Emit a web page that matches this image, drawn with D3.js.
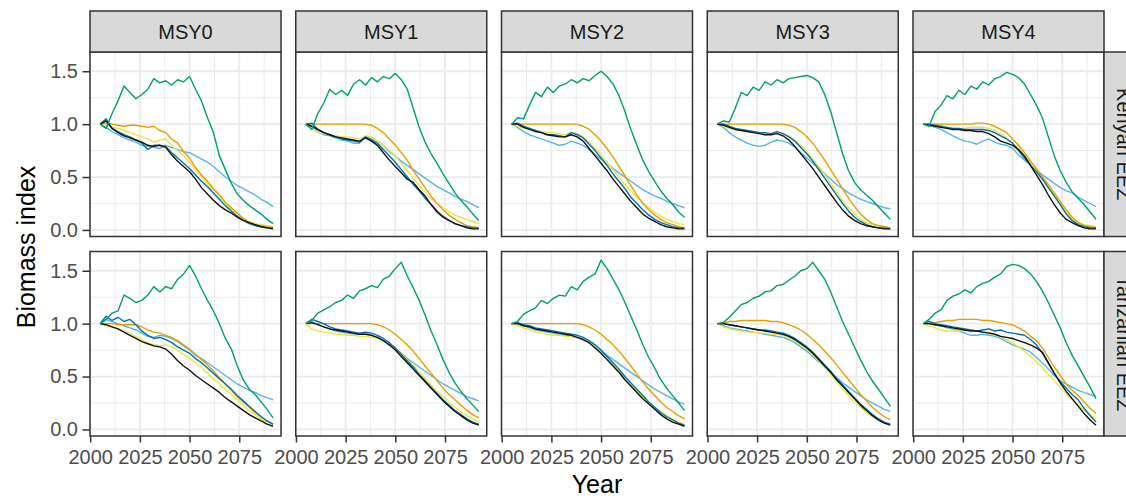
<!DOCTYPE html>
<html>
<head>
<meta charset="utf-8">
<script src="https://cdn.jsdelivr.net/npm/d3@7"></script>
<style>
  html, body { margin: 0; padding: 0; background: #fff; }
  svg { display: block; }
</style>
</head>
<body>
<svg id="chart" width="1126" height="496"></svg>
<script>
// Facet labels, series and axis ticks
const regions = ["Kenyan EEZ", "Tanzanian EEZ"];
const scenarios = ["MSY0", "MSY1", "MSY2", "MSY3", "MSY4"];
const seriesKeys = ["skyblue", "yellow", "orange", "blue", "black", "green"];
const seriesColours = ["#56B4E9", "#F0E442", "#E69F00", "#0072B2", "#111111", "#009E73"];
const xTicks = [2000, 2025, 2050, 2075];
const yTicks = [0, 0.5, 1, 1.5];

// Simulation years (every third year)
const years = [2005, 2008, 2011, 2014, 2017, 2020, 2023, 2026, 2029, 2032, 2035, 2038, 2041, 2044, 2047,
               2050, 2053, 2056, 2059, 2062, 2065, 2068, 2071, 2074, 2077, 2080, 2083, 2086, 2089, 2092];

// ---- Kenyan EEZ ----
const kenMSY0_green   = [1.00,0.96,1.10,1.22,1.36,1.30,1.24,1.28,1.33,1.43,1.39,1.41,1.37,1.42,1.40,1.45,1.33,1.22,1.06,0.92,0.70,0.57,0.44,0.34,0.28,0.23,0.19,0.15,0.10,0.06];
const kenMSY0_orange  = [1.00,1.01,1.00,0.99,0.98,0.99,0.99,0.98,0.97,0.98,0.94,0.92,0.86,0.82,0.74,0.68,0.59,0.52,0.46,0.39,0.33,0.26,0.21,0.16,0.11,0.07,0.05,0.04,0.03,0.02];
const kenMSY0_yellow  = [1.00,0.99,0.97,0.96,0.94,0.92,0.90,0.88,0.86,0.83,0.85,0.86,0.80,0.75,0.70,0.64,0.57,0.50,0.44,0.38,0.32,0.26,0.20,0.15,0.11,0.08,0.06,0.05,0.04,0.03];
const kenMSY0_skyblue = [1.00,0.97,0.93,0.90,0.87,0.85,0.83,0.80,0.79,0.78,0.77,0.80,0.78,0.76,0.74,0.73,0.70,0.67,0.64,0.60,0.55,0.50,0.46,0.42,0.39,0.36,0.33,0.29,0.26,0.22];
const kenMSY0_blue    = [1.00,1.05,0.96,0.93,0.90,0.88,0.85,0.82,0.76,0.80,0.80,0.79,0.73,0.68,0.63,0.58,0.52,0.46,0.41,0.35,0.29,0.23,0.18,0.13,0.09,0.06,0.04,0.03,0.02,0.02];
const kenMSY0_black   = [1.00,1.03,0.96,0.92,0.89,0.87,0.85,0.83,0.80,0.79,0.80,0.78,0.71,0.65,0.60,0.55,0.48,0.40,0.34,0.28,0.23,0.19,0.16,0.12,0.09,0.07,0.05,0.03,0.02,0.01];

const kenMSY1_green   = [1.00,0.95,1.10,1.20,1.33,1.28,1.32,1.27,1.38,1.42,1.37,1.44,1.40,1.45,1.43,1.48,1.42,1.33,1.15,0.97,0.83,0.72,0.63,0.53,0.44,0.35,0.28,0.22,0.15,0.09];
const kenMSY1_orange  = [1.00,1.00,1.00,1.00,1.00,1.00,1.00,1.00,1.00,1.00,1.00,0.99,0.96,0.92,0.86,0.80,0.73,0.66,0.56,0.48,0.40,0.32,0.25,0.19,0.14,0.10,0.07,0.04,0.03,0.02];
const kenMSY1_yellow  = [1.00,0.96,0.92,0.91,0.90,0.89,0.88,0.88,0.87,0.86,0.89,0.88,0.84,0.80,0.75,0.70,0.63,0.56,0.49,0.42,0.36,0.30,0.25,0.21,0.17,0.14,0.12,0.10,0.08,0.06];
const kenMSY1_skyblue = [1.00,0.97,0.93,0.90,0.89,0.87,0.85,0.84,0.82,0.82,0.88,0.86,0.84,0.80,0.74,0.70,0.65,0.61,0.57,0.53,0.49,0.45,0.41,0.38,0.35,0.32,0.29,0.27,0.24,0.21];
const kenMSY1_blue    = [1.00,1.01,0.95,0.92,0.90,0.88,0.86,0.85,0.84,0.83,0.88,0.85,0.82,0.76,0.70,0.64,0.57,0.50,0.43,0.37,0.30,0.24,0.18,0.13,0.09,0.06,0.04,0.03,0.02,0.02];
const kenMSY1_black   = [1.00,0.98,0.95,0.92,0.90,0.88,0.87,0.86,0.85,0.84,0.87,0.84,0.80,0.73,0.66,0.60,0.54,0.48,0.45,0.38,0.32,0.24,0.17,0.12,0.09,0.06,0.04,0.02,0.01,0.01];

const kenMSY2_green   = [1.00,1.06,1.05,1.18,1.30,1.26,1.35,1.30,1.36,1.38,1.42,1.39,1.43,1.41,1.46,1.50,1.45,1.38,1.27,1.12,0.95,0.80,0.66,0.55,0.46,0.37,0.30,0.24,0.17,0.12];
const kenMSY2_orange  = [1.00,1.00,1.00,1.00,1.00,1.00,1.00,1.00,1.00,1.00,1.00,1.00,0.98,0.95,0.90,0.84,0.77,0.69,0.60,0.51,0.42,0.33,0.25,0.19,0.14,0.10,0.07,0.05,0.03,0.02];
const kenMSY2_yellow  = [1.00,0.98,0.96,0.95,0.94,0.93,0.92,0.92,0.91,0.90,0.92,0.91,0.88,0.83,0.77,0.71,0.64,0.57,0.50,0.43,0.37,0.31,0.26,0.21,0.17,0.13,0.10,0.08,0.06,0.05];
const kenMSY2_skyblue = [1.00,0.97,0.93,0.90,0.88,0.86,0.84,0.82,0.80,0.81,0.84,0.82,0.80,0.76,0.71,0.67,0.63,0.58,0.54,0.50,0.46,0.42,0.38,0.35,0.32,0.30,0.27,0.25,0.23,0.21];
const kenMSY2_blue    = [1.00,1.01,0.98,0.96,0.94,0.92,0.90,0.90,0.89,0.88,0.92,0.90,0.87,0.81,0.75,0.68,0.61,0.53,0.46,0.39,0.31,0.25,0.19,0.14,0.10,0.07,0.05,0.03,0.02,0.02];
const kenMSY2_black   = [1.00,1.00,0.97,0.95,0.93,0.92,0.90,0.89,0.88,0.88,0.90,0.88,0.84,0.77,0.70,0.63,0.56,0.48,0.41,0.34,0.27,0.21,0.15,0.11,0.08,0.05,0.03,0.02,0.01,0.01];

const kenMSY3_green   = [1.00,1.03,1.02,1.15,1.30,1.27,1.35,1.32,1.40,1.37,1.42,1.39,1.43,1.44,1.45,1.46,1.44,1.40,1.28,1.12,0.92,0.72,0.56,0.45,0.38,0.33,0.28,0.22,0.16,0.10];
const kenMSY3_orange  = [1.00,1.00,1.00,1.00,1.00,1.00,1.00,1.00,1.00,1.00,1.00,1.00,0.99,0.97,0.93,0.88,0.82,0.74,0.66,0.57,0.48,0.39,0.30,0.22,0.15,0.10,0.06,0.04,0.03,0.02];
const kenMSY3_yellow  = [1.00,0.98,0.96,0.95,0.94,0.93,0.93,0.92,0.91,0.91,0.92,0.91,0.89,0.85,0.80,0.74,0.67,0.60,0.52,0.44,0.36,0.28,0.21,0.15,0.10,0.07,0.05,0.04,0.03,0.02];
const kenMSY3_skyblue = [1.00,0.97,0.92,0.88,0.85,0.82,0.80,0.79,0.80,0.83,0.85,0.84,0.82,0.78,0.73,0.68,0.63,0.58,0.53,0.48,0.43,0.39,0.35,0.32,0.29,0.27,0.25,0.23,0.21,0.20];
const kenMSY3_blue    = [1.00,1.00,0.98,0.96,0.95,0.94,0.93,0.92,0.92,0.91,0.93,0.91,0.88,0.84,0.78,0.72,0.65,0.57,0.49,0.41,0.33,0.25,0.18,0.12,0.08,0.05,0.03,0.02,0.02,0.01];
const kenMSY3_black   = [1.00,0.99,0.97,0.95,0.94,0.93,0.92,0.91,0.90,0.90,0.91,0.89,0.85,0.79,0.72,0.65,0.58,0.50,0.42,0.34,0.26,0.19,0.13,0.09,0.06,0.04,0.03,0.02,0.01,0.01];

const kenMSY4_green   = [1.00,0.98,1.12,1.18,1.27,1.24,1.32,1.28,1.36,1.33,1.40,1.37,1.43,1.45,1.49,1.47,1.44,1.38,1.28,1.18,1.06,0.88,0.70,0.56,0.45,0.36,0.30,0.24,0.17,0.10];
const kenMSY4_orange  = [1.00,1.00,1.00,1.00,1.00,1.00,1.00,1.00,1.00,1.01,1.01,1.00,0.98,0.95,0.92,0.86,0.80,0.73,0.65,0.58,0.50,0.43,0.35,0.27,0.19,0.12,0.07,0.04,0.03,0.02];
const kenMSY4_yellow  = [1.00,0.99,0.98,0.97,0.97,0.96,0.96,0.96,0.97,0.97,0.97,0.96,0.94,0.91,0.87,0.82,0.76,0.70,0.63,0.56,0.48,0.41,0.33,0.25,0.17,0.11,0.07,0.05,0.04,0.03];
const kenMSY4_skyblue = [1.00,0.99,0.97,0.95,0.92,0.89,0.86,0.84,0.83,0.81,0.84,0.86,0.83,0.81,0.80,0.77,0.71,0.66,0.62,0.57,0.52,0.48,0.44,0.40,0.37,0.35,0.31,0.28,0.25,0.22];
const kenMSY4_blue    = [1.00,1.00,0.99,0.98,0.97,0.96,0.96,0.95,0.95,0.95,0.95,0.94,0.92,0.89,0.86,0.82,0.75,0.68,0.61,0.55,0.48,0.40,0.32,0.24,0.15,0.09,0.05,0.03,0.02,0.02];
const kenMSY4_black   = [1.00,0.99,0.98,0.97,0.96,0.95,0.95,0.94,0.94,0.93,0.93,0.91,0.88,0.84,0.82,0.80,0.76,0.70,0.61,0.52,0.43,0.33,0.24,0.16,0.10,0.07,0.04,0.02,0.01,0.01];

// ---- Tanzanian EEZ ----
const tanMSY0_green   = [1.00,1.04,1.10,1.12,1.27,1.24,1.20,1.22,1.27,1.35,1.30,1.35,1.33,1.42,1.47,1.55,1.45,1.33,1.22,1.12,1.00,0.86,0.76,0.60,0.47,0.38,0.33,0.26,0.19,0.11];
const tanMSY0_orange  = [1.00,1.00,1.00,0.99,0.99,0.99,0.99,0.97,0.94,0.92,0.91,0.89,0.87,0.84,0.80,0.76,0.71,0.66,0.61,0.55,0.49,0.43,0.37,0.31,0.26,0.21,0.16,0.12,0.08,0.05];
const tanMSY0_yellow  = [1.00,0.98,0.97,0.95,0.93,0.91,0.88,0.85,0.82,0.80,0.79,0.80,0.78,0.75,0.71,0.67,0.63,0.58,0.53,0.48,0.43,0.38,0.33,0.28,0.23,0.18,0.14,0.10,0.07,0.05];
const tanMSY0_skyblue = [1.00,1.04,1.02,1.00,0.98,0.96,0.94,0.91,0.88,0.87,0.89,0.88,0.86,0.83,0.79,0.75,0.70,0.67,0.63,0.59,0.55,0.51,0.47,0.43,0.40,0.37,0.35,0.32,0.30,0.28];
const tanMSY0_blue    = [1.00,1.07,1.03,1.06,1.02,1.04,0.99,0.93,0.89,0.86,0.87,0.85,0.82,0.78,0.75,0.72,0.67,0.63,0.58,0.53,0.48,0.43,0.38,0.32,0.27,0.22,0.17,0.12,0.08,0.05];
const tanMSY0_black   = [1.00,0.99,0.97,0.95,0.92,0.89,0.86,0.83,0.81,0.79,0.78,0.76,0.71,0.65,0.60,0.56,0.51,0.47,0.43,0.39,0.35,0.30,0.26,0.22,0.18,0.14,0.11,0.08,0.05,0.03];

const tanMSY1_green   = [1.00,1.03,1.10,1.13,1.16,1.20,1.22,1.27,1.24,1.31,1.33,1.36,1.34,1.42,1.45,1.52,1.58,1.45,1.34,1.22,1.08,0.93,0.80,0.66,0.54,0.44,0.36,0.29,0.23,0.17];
const tanMSY1_orange  = [1.00,1.00,1.00,1.00,1.00,1.00,1.00,1.00,1.00,1.00,1.00,1.00,0.99,0.97,0.94,0.90,0.85,0.80,0.74,0.67,0.60,0.53,0.46,0.39,0.33,0.28,0.23,0.18,0.14,0.11];
const tanMSY1_yellow  = [1.00,0.95,0.93,0.92,0.91,0.90,0.90,0.89,0.89,0.88,0.88,0.87,0.86,0.84,0.81,0.77,0.72,0.66,0.60,0.54,0.48,0.42,0.36,0.31,0.26,0.21,0.17,0.13,0.10,0.07];
const tanMSY1_skyblue = [1.00,1.02,0.99,0.97,0.95,0.93,0.92,0.91,0.90,0.90,0.91,0.89,0.87,0.84,0.80,0.76,0.72,0.67,0.63,0.59,0.55,0.51,0.47,0.43,0.40,0.37,0.34,0.31,0.29,0.27];
const tanMSY1_blue    = [1.00,1.04,1.02,1.00,0.97,0.95,0.94,0.93,0.92,0.91,0.92,0.91,0.89,0.86,0.82,0.77,0.71,0.65,0.59,0.52,0.46,0.40,0.34,0.28,0.23,0.18,0.14,0.10,0.07,0.05];
const tanMSY1_black   = [1.00,1.01,0.99,0.97,0.95,0.94,0.93,0.92,0.91,0.90,0.90,0.89,0.87,0.84,0.80,0.75,0.69,0.63,0.57,0.51,0.45,0.39,0.33,0.27,0.22,0.17,0.13,0.09,0.06,0.04];

const tanMSY2_green   = [1.00,1.02,1.09,1.12,1.15,1.22,1.19,1.24,1.27,1.26,1.35,1.32,1.40,1.44,1.47,1.60,1.52,1.42,1.32,1.20,1.07,0.94,0.80,0.68,0.58,0.47,0.39,0.32,0.25,0.18];
const tanMSY2_orange  = [1.00,1.00,1.00,1.00,1.00,1.00,1.00,1.00,1.00,1.00,1.00,1.00,0.99,0.97,0.94,0.90,0.85,0.80,0.74,0.67,0.60,0.52,0.45,0.38,0.32,0.26,0.21,0.17,0.13,0.10];
const tanMSY2_yellow  = [1.00,0.98,0.96,0.94,0.92,0.91,0.90,0.89,0.89,0.88,0.88,0.87,0.85,0.82,0.78,0.73,0.67,0.61,0.55,0.49,0.43,0.37,0.31,0.26,0.21,0.17,0.13,0.10,0.07,0.05];
const tanMSY2_skyblue = [1.00,1.00,0.98,0.96,0.94,0.93,0.92,0.91,0.90,0.89,0.88,0.87,0.85,0.82,0.78,0.74,0.70,0.66,0.62,0.58,0.54,0.50,0.46,0.42,0.38,0.35,0.32,0.29,0.26,0.24];
const tanMSY2_blue    = [1.00,1.01,0.99,0.98,0.96,0.95,0.94,0.93,0.92,0.91,0.90,0.89,0.87,0.84,0.80,0.75,0.69,0.63,0.57,0.50,0.44,0.38,0.32,0.26,0.21,0.16,0.12,0.09,0.06,0.04];
const tanMSY2_black   = [1.00,1.00,0.98,0.97,0.95,0.94,0.93,0.92,0.91,0.90,0.89,0.87,0.85,0.82,0.77,0.72,0.66,0.60,0.54,0.47,0.41,0.35,0.29,0.24,0.19,0.14,0.10,0.07,0.05,0.03];

const tanMSY3_green   = [1.00,1.01,1.06,1.12,1.18,1.20,1.24,1.26,1.30,1.31,1.36,1.37,1.41,1.45,1.50,1.52,1.58,1.50,1.42,1.30,1.16,1.02,0.90,0.78,0.66,0.55,0.46,0.38,0.30,0.22];
const tanMSY3_orange  = [1.00,1.01,1.02,1.02,1.03,1.03,1.03,1.03,1.03,1.02,1.02,1.01,0.99,0.97,0.94,0.90,0.85,0.80,0.74,0.68,0.61,0.54,0.47,0.40,0.33,0.27,0.21,0.16,0.12,0.09];
const tanMSY3_yellow  = [1.00,0.97,0.95,0.94,0.93,0.92,0.92,0.91,0.91,0.90,0.90,0.89,0.87,0.84,0.80,0.76,0.71,0.65,0.59,0.52,0.45,0.38,0.32,0.26,0.21,0.16,0.12,0.09,0.06,0.05];
const tanMSY3_skyblue = [1.00,0.98,0.96,0.95,0.94,0.93,0.92,0.91,0.90,0.89,0.88,0.87,0.85,0.82,0.78,0.74,0.69,0.64,0.59,0.54,0.49,0.44,0.40,0.36,0.32,0.28,0.25,0.22,0.19,0.17];
const tanMSY3_blue    = [1.00,1.00,0.99,0.98,0.97,0.96,0.95,0.94,0.94,0.93,0.92,0.91,0.89,0.86,0.82,0.78,0.73,0.67,0.61,0.55,0.48,0.42,0.36,0.30,0.24,0.19,0.14,0.10,0.07,0.05];
const tanMSY3_black   = [1.00,1.00,0.99,0.98,0.97,0.96,0.95,0.94,0.93,0.92,0.91,0.90,0.88,0.85,0.81,0.77,0.72,0.66,0.60,0.54,0.47,0.41,0.35,0.29,0.23,0.18,0.13,0.09,0.06,0.04];

const tanMSY4_green   = [1.00,1.04,1.10,1.13,1.22,1.26,1.28,1.32,1.29,1.35,1.38,1.40,1.44,1.47,1.54,1.56,1.55,1.52,1.47,1.40,1.31,1.20,1.08,0.96,0.82,0.70,0.60,0.50,0.40,0.29];
const tanMSY4_orange  = [1.00,1.00,1.01,1.02,1.03,1.03,1.04,1.04,1.04,1.04,1.03,1.03,1.02,1.01,1.00,0.99,0.96,0.93,0.88,0.84,0.77,0.68,0.59,0.51,0.43,0.37,0.32,0.26,0.20,0.15];
const tanMSY4_yellow  = [1.00,0.98,0.96,0.94,0.93,0.93,0.93,0.94,0.94,0.93,0.92,0.92,0.90,0.88,0.85,0.82,0.78,0.74,0.69,0.64,0.58,0.52,0.46,0.40,0.34,0.28,0.23,0.18,0.14,0.10];
const tanMSY4_skyblue = [1.00,1.00,0.99,0.98,0.96,0.95,0.93,0.91,0.89,0.89,0.90,0.89,0.88,0.86,0.83,0.80,0.78,0.76,0.73,0.68,0.63,0.57,0.51,0.46,0.43,0.40,0.37,0.35,0.33,0.31];
const tanMSY4_blue    = [1.00,1.02,1.00,0.99,0.98,0.97,0.96,0.95,0.94,0.93,0.94,0.95,0.93,0.94,0.92,0.91,0.90,0.89,0.85,0.80,0.72,0.63,0.53,0.45,0.39,0.33,0.28,0.20,0.13,0.07];
const tanMSY4_black   = [1.00,1.00,0.99,0.98,0.97,0.96,0.95,0.94,0.93,0.93,0.92,0.91,0.90,0.88,0.87,0.86,0.84,0.82,0.80,0.77,0.73,0.63,0.53,0.44,0.36,0.29,0.22,0.15,0.09,0.04];

// Panel table: region -> scenario -> series values
const panelData = {
  "Kenyan EEZ": [
    {skyblue: kenMSY0_skyblue, yellow: kenMSY0_yellow, orange: kenMSY0_orange, blue: kenMSY0_blue, black: kenMSY0_black, green: kenMSY0_green},
    {skyblue: kenMSY1_skyblue, yellow: kenMSY1_yellow, orange: kenMSY1_orange, blue: kenMSY1_blue, black: kenMSY1_black, green: kenMSY1_green},
    {skyblue: kenMSY2_skyblue, yellow: kenMSY2_yellow, orange: kenMSY2_orange, blue: kenMSY2_blue, black: kenMSY2_black, green: kenMSY2_green},
    {skyblue: kenMSY3_skyblue, yellow: kenMSY3_yellow, orange: kenMSY3_orange, blue: kenMSY3_blue, black: kenMSY3_black, green: kenMSY3_green},
    {skyblue: kenMSY4_skyblue, yellow: kenMSY4_yellow, orange: kenMSY4_orange, blue: kenMSY4_blue, black: kenMSY4_black, green: kenMSY4_green}
  ],
  "Tanzanian EEZ": [
    {skyblue: tanMSY0_skyblue, yellow: tanMSY0_yellow, orange: tanMSY0_orange, blue: tanMSY0_blue, black: tanMSY0_black, green: tanMSY0_green},
    {skyblue: tanMSY1_skyblue, yellow: tanMSY1_yellow, orange: tanMSY1_orange, blue: tanMSY1_blue, black: tanMSY1_black, green: tanMSY1_green},
    {skyblue: tanMSY2_skyblue, yellow: tanMSY2_yellow, orange: tanMSY2_orange, blue: tanMSY2_blue, black: tanMSY2_black, green: tanMSY2_green},
    {skyblue: tanMSY3_skyblue, yellow: tanMSY3_yellow, orange: tanMSY3_orange, blue: tanMSY3_blue, black: tanMSY3_black, green: tanMSY3_green},
    {skyblue: tanMSY4_skyblue, yellow: tanMSY4_yellow, orange: tanMSY4_orange, blue: tanMSY4_blue, black: tanMSY4_black, green: tanMSY4_green}
  ]
};

// ---- Layout ----
const FONT = "'Liberation Sans', Arial, Helvetica, sans-serif";
const gridLeft = 90, gridTop = 52;
const panelW = 191, panelH = 184.5;
const colGap = 14.75, rowGap = 15;
const stripH = 41;
const gridColour = "#EBEBEB", borderColour = "#333333";

const svg = d3.select("#chart");
svg.append("rect").attr("width", 1126).attr("height", 496).attr("fill", "#fff");

const x = d3.scaleLinear().domain([1999.9, 2096]).range([0, panelW]);
const y = d3.scaleLinear().domain([-0.062, 1.682]).range([panelH, 0]);
const xMinor = [2012.5, 2037.5, 2062.5, 2087.5];
const yMinor = [0.25, 0.75, 1.25];

const line = d3.line().x((d, i) => x(years[i])).y(d => y(d));

regions.forEach((region, r) => {
  const py = gridTop + r * (panelH + rowGap);
  scenarios.forEach((scen, c) => {
    const px = gridLeft + c * (panelW + colGap);
    const g = svg.append("g").attr("transform", `translate(${px},${py})`);
    g.append("rect").attr("width", panelW).attr("height", panelH).attr("fill", "#fff");

    // grid
    g.selectAll(".xmin").data(xMinor).join("line")
      .attr("x1", d => x(d)).attr("x2", d => x(d)).attr("y1", 0).attr("y2", panelH)
      .attr("stroke", gridColour).attr("stroke-width", 1);
    g.selectAll(".ymin").data(yMinor).join("line")
      .attr("x1", 0).attr("x2", panelW).attr("y1", d => y(d)).attr("y2", d => y(d))
      .attr("stroke", gridColour).attr("stroke-width", 1);
    g.selectAll(".xmaj").data(xTicks).join("line")
      .attr("x1", d => x(d)).attr("x2", d => x(d)).attr("y1", 0).attr("y2", panelH)
      .attr("stroke", gridColour).attr("stroke-width", 1.8);
    g.selectAll(".ymaj").data(yTicks).join("line")
      .attr("x1", 0).attr("x2", panelW).attr("y1", d => y(d)).attr("y2", d => y(d))
      .attr("stroke", gridColour).attr("stroke-width", 1.8);

    // series
    const pd = panelData[region][c];
    seriesKeys.forEach((k, si) => {
      g.append("path").datum(pd[k]).attr("d", line)
        .attr("fill", "none").attr("stroke", seriesColours[si])
        .attr("stroke-width", 1.4).attr("stroke-linejoin", "round");
    });

    g.append("rect").attr("width", panelW).attr("height", panelH)
      .attr("fill", "none").attr("stroke", borderColour).attr("stroke-width", 1.5);

    // top strips
    if (r === 0) {
      svg.append("rect").attr("x", px).attr("y", gridTop - stripH).attr("width", panelW).attr("height", stripH)
        .attr("fill", "#D9D9D9").attr("stroke", borderColour).attr("stroke-width", 1.5);
      svg.append("text").attr("x", px + panelW / 2).attr("y", gridTop - 12.7)
        .attr("text-anchor", "middle").attr("font-family", FONT).attr("font-size", 20)
        .attr("fill", "#1A1A1A").text(scen);
    }

    // x axis on bottom row
    if (r === regions.length - 1) {
      const ax = svg.append("g").attr("transform", `translate(${px},${py + panelH})`)
        .call(d3.axisBottom(x).tickValues(xTicks).tickFormat(d3.format("d")).tickSize(6.5).tickPadding(7.5));
      ax.select(".domain").remove();
      ax.selectAll("line").attr("stroke", borderColour).attr("stroke-width", 1.5);
      ax.selectAll("text").attr("font-family", FONT).attr("font-size", 20).attr("fill", "#4D4D4D");
    }
    // y axis on first column
    if (c === 0) {
      const ay = svg.append("g").attr("transform", `translate(${px},${py})`)
        .call(d3.axisLeft(y).tickValues(yTicks).tickFormat(d3.format(".1f")).tickSize(7.5).tickPadding(4.5));
      ay.select(".domain").remove();
      ay.selectAll("line").attr("stroke", borderColour).attr("stroke-width", 1.5);
      ay.selectAll("text").attr("font-family", FONT).attr("font-size", 20).attr("fill", "#4D4D4D");
    }
  });

  // right strip (its label runs past the right edge of the canvas)
  const sx = gridLeft + scenarios.length * panelW + (scenarios.length - 1) * colGap;
  svg.append("rect").attr("x", sx).attr("y", py).attr("width", stripH).attr("height", panelH)
    .attr("fill", "#D9D9D9").attr("stroke", borderColour).attr("stroke-width", 1.5);
  svg.append("text").attr("transform", `translate(${sx + 12.5},${py + panelH / 2}) rotate(90)`)
    .attr("text-anchor", "middle").attr("font-family", FONT).attr("font-size", 20)
    .attr("fill", "#1A1A1A").text(region);
});

// axis titles
const plotRight = gridLeft + scenarios.length * panelW + (scenarios.length - 1) * colGap;
svg.append("text").attr("x", (gridLeft + plotRight) / 2).attr("y", 492.5)
  .attr("text-anchor", "middle").attr("font-family", FONT).attr("font-size", 25)
  .attr("fill", "#000").text("Year");
svg.append("text").attr("transform", "translate(35,247) rotate(-90)")
  .attr("text-anchor", "middle").attr("font-family", FONT).attr("font-size", 25)
  .attr("fill", "#000").text("Biomass index");
</script>
</body>
</html>
